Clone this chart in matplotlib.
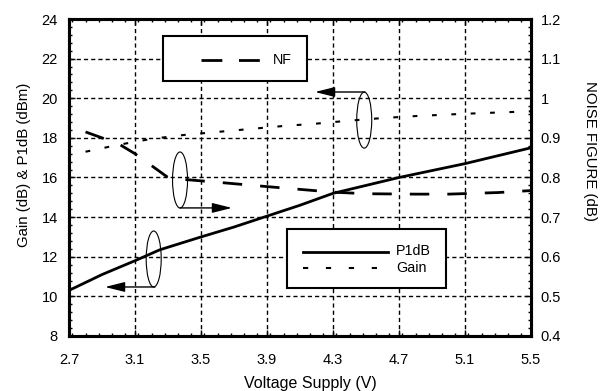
import numpy as np
import matplotlib.pyplot as plt
from matplotlib.patches import Ellipse, Rectangle
from matplotlib.lines import Line2D
from matplotlib.ticker import MultipleLocator, FormatStrFormatter

plt.rcParams['font.family'] = ['Liberation Sans', 'DejaVu Sans']

# Supply voltage sweeps (V)
v_p1db = [2.7, 2.9, 3.1, 3.25, 3.5, 3.7, 3.9, 4.1, 4.3, 4.5, 4.7, 4.9, 5.1, 5.3, 5.5]
p1db = [10.3, 11.1, 11.8, 12.35, 13.0, 13.5, 14.05, 14.6, 15.2, 15.6, 16.0, 16.35, 16.7, 17.1, 17.5]

v_gain = [2.8, 3.0, 3.2, 3.4, 3.6, 3.8, 4.0, 4.2, 4.4, 4.6, 4.8, 5.0, 5.2, 5.5]
gain = [17.3, 17.65, 17.95, 18.15, 18.3, 18.45, 18.6, 18.72, 18.87, 19.0, 19.1, 19.18, 19.25, 19.34]

v_nf = [2.8, 3.0, 3.1, 3.3, 3.4, 3.6, 3.9, 4.1, 4.3, 4.5, 4.8, 5.0, 5.3, 5.5]
nf = [0.915, 0.885, 0.86, 0.80, 0.795, 0.788, 0.777, 0.770, 0.763, 0.759, 0.758, 0.758, 0.762, 0.767]

fig = plt.figure(figsize=(6.07, 3.91), dpi=100)
ax = fig.add_axes([0.1137, 0.1407, 0.7611, 0.8107])
ax2 = ax.twinx()

grid_ls = (0, (3, 2.2))
ax.grid(True, which='major', color='black', linestyle=grid_ls, linewidth=1.0)
ax.set_axisbelow(True)

ax.plot(v_p1db, p1db, color='black', linewidth=2.0, solid_capstyle='butt')
gain_ls = (0, (2.3, 7))
ax.plot(v_gain, gain, color='black', linewidth=1.5, linestyle=gain_ls)
nf_ls = (0, (7, 6.5))
ax2.plot(v_nf, nf, color='black', linewidth=2.0, linestyle=nf_ls)

ax.set_xlim(2.7, 5.5)
ax.set_ylim(8, 24)
ax2.set_ylim(0.4, 1.2)
ax.set_xticks(np.arange(2.7, 5.51, 0.4))
ax.xaxis.set_major_formatter(FormatStrFormatter('%.1f'))
ax.set_yticks(np.arange(8, 24.1, 2))
ax.xaxis.set_minor_locator(MultipleLocator(0.08))
ax.yaxis.set_minor_locator(MultipleLocator(0.4))
ax2.set_yticks(np.arange(0.4, 1.201, 0.1))
ax2.set_yticklabels(['0.4', '0.5', '0.6', '0.7', '0.8', '0.9', '1', '1.1', '1.2'])
ax2.yaxis.set_minor_locator(MultipleLocator(0.02))

for a in (ax, ax2):
    a.tick_params(which='both', direction='in', width=1.0, labelsize=10.5)
    a.tick_params(which='major', length=4)
    a.tick_params(which='minor', length=2.5)
    for s in a.spines.values():
        s.set_linewidth(2.2)
ax.tick_params(axis='x', which='both', top=True, pad=12)
ax.tick_params(axis='y', which='both', pad=8)
ax2.tick_params(axis='y', which='both', pad=7)

ax.set_xlabel('Voltage Supply (V)', fontsize=11.5)
ax.xaxis.set_label_coords(0.522, -0.125)
ax.set_ylabel('Gain (dB) & P1dB (dBm)', fontsize=10.8)
ax.yaxis.set_label_coords(-0.083, 0.54)
ax2.set_ylabel('NOISE FIGURE (dB)', fontsize=10.8, rotation=270, va='center')
ax2.yaxis.set_label_coords(1.128, 0.584)

T = ax2.transAxes

# NF key box
ax2.add_patch(Rectangle((0.2035, 0.804), 0.3115, 0.142, transform=T,
                        facecolor='white', edgecolor='black', linewidth=1.5, zorder=5))
ax2.add_line(Line2D([0.285, 0.415], [0.870, 0.870], transform=T, color='black',
                    linewidth=2.0, linestyle=(0, (7.5, 6)), zorder=6))
ax2.text(0.442, 0.870, 'NF', transform=T, fontsize=10.3, va='center', ha='left', zorder=6)

# P1dB / Gain key box
ax2.add_patch(Rectangle((0.472, 0.150), 0.343, 0.1875, transform=T,
                        facecolor='white', edgecolor='black', linewidth=1.5, zorder=5))
ax2.add_line(Line2D([0.5065, 0.690], [0.265, 0.265], transform=T, color='black',
                    linewidth=2.0, zorder=6))
ax2.add_line(Line2D([0.5065, 0.690], [0.2145, 0.2145], transform=T, color='black',
                    linewidth=1.5, linestyle=(0, (2.5, 8.5)), zorder=6))
ax2.text(0.708, 0.268, 'P1dB', transform=T, fontsize=10.3, va='center', ha='left', zorder=6)
ax2.text(0.708, 0.216, 'Gain', transform=T, fontsize=10.3, va='center', ha='left', zorder=6)

# curve markers with arrows pointing to their axis
ew, eh = 15 / 462, 56 / 317
arrow = dict(arrowstyle='-|>,head_length=1.2,head_width=0.3', color='black',
             linewidth=1.0, mutation_scale=10, shrinkA=0, shrinkB=0)
for (cx, cy), start, end in [((0.2403, 0.4921), (0.2403, 0.4040), (0.3528, 0.4040)),
                             ((0.1833, 0.2429), (0.1860, 0.1546), (0.0779, 0.1546)),
                             ((0.6390, 0.6810), (0.6407, 0.7697), (0.5325, 0.7697))]:
    ax2.add_patch(Ellipse((cx, cy), ew, eh, transform=T, fill=False,
                          edgecolor='black', linewidth=0.8, zorder=4))
    ax2.annotate('', xy=end, xytext=start, xycoords=T, textcoords=T,
                 arrowprops=arrow, zorder=4)

fig.savefig('out.png', dpi=100)
